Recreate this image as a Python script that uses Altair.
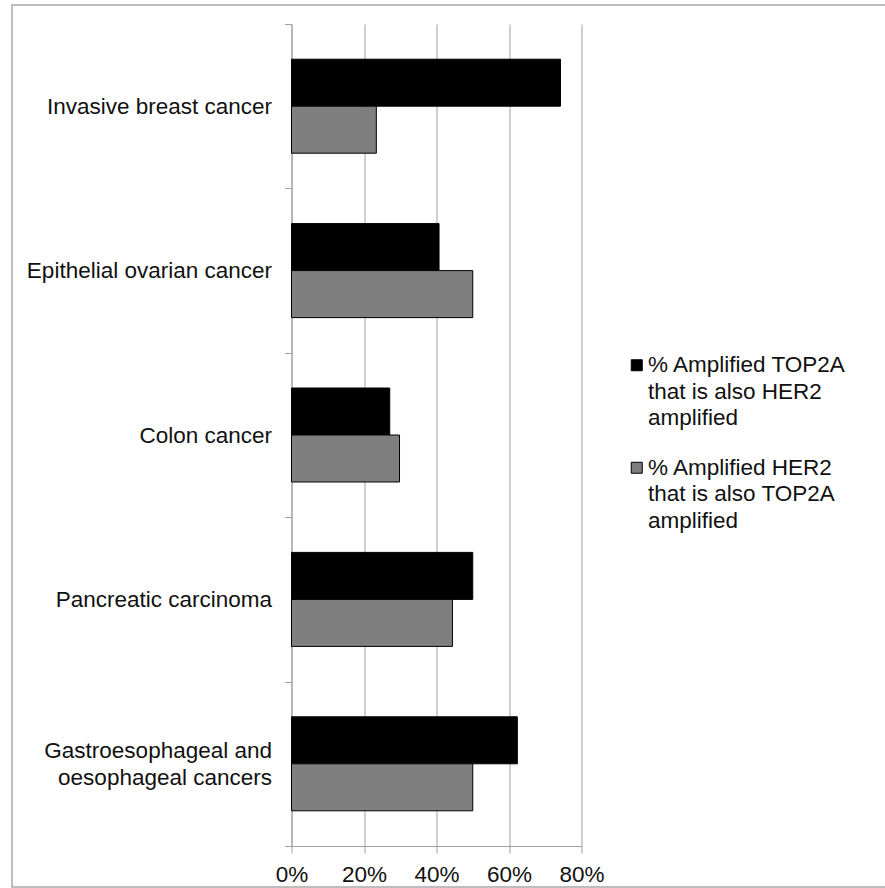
import altair as alt
import pandas as pd

categories = [
    "Invasive breast cancer",
    "Epithelial ovarian cancer",
    "Colon cancer",
    "Pancreatic carcinoma",
    "Gastroesophageal and oesophageal cancers",
]
series = [
    "% Amplified TOP2A that is also HER2 amplified",
    "% Amplified HER2 that is also TOP2A amplified",
]
top2a_also_her2 = [74.2, 40.7, 27.1, 50.0, 62.3]
her2_also_top2a = [23.4, 50.0, 29.8, 44.4, 50.0]
x_ticks = [0, 20, 40, 60, 80]

rows = []
for c, a, b in zip(categories, top2a_also_her2, her2_also_top2a):
    rows.append({"category": c, "series": series[0], "value": a})
    rows.append({"category": c, "series": series[1], "value": b})
df = pd.DataFrame(rows)

FONT = "Liberation Sans"
FS = 22.5
GRAY = "#a0a0a0"

two_line = "Gastroesophageal and oesophageal cancers"
y_label_expr = (
    "datum.value == '" + two_line + "' ? "
    "['Gastroesophageal and', 'oesophageal cancers'] : datum.value"
)
legend_label_expr = (
    "datum.value == '" + series[0] + "' ? "
    "['% Amplified TOP2A', 'that is also HER2', 'amplified'] : "
    "['% Amplified HER2', 'that is also TOP2A', 'amplified']"
)

bars = alt.Chart(df).mark_bar(stroke="#000000", strokeWidth=1).encode(
    y=alt.Y(
        "category:N",
        sort=categories,
        scale=alt.Scale(paddingInner=0, paddingOuter=0),
        axis=alt.Axis(
            title=None,
            labelExpr=y_label_expr,
            labelOffset={
                "condition": {"test": "datum.value == '" + two_line + "'", "value": -13.5},
                "value": 0,
            },
            tickBand="extent",
            tickSize=7,
            tickColor=GRAY,
            domainColor=GRAY,
            labelFont=FONT,
            labelFontSize=FS,
            labelColor="#111111",
            labelPadding=13,
            labelLimit=400,
            labelLineHeight=27,
            grid=False,
        ),
    ),
    x=alt.X(
        "value:Q",
        scale=alt.Scale(domain=[0, 80], nice=False),
        axis=alt.Axis(
            title=None,
            values=x_ticks,
            labelExpr="datum.value + '%'",
            grid=True,
            gridColor=GRAY,
            gridWidth=1,
            tickSize=7,
            tickColor=GRAY,
            domainColor=GRAY,
            labelFont=FONT,
            labelFontSize=FS,
            labelColor="#111111",
            labelPadding=10,
            labelFlush=False,
        ),
    ),
    yOffset=alt.YOffset(
        "series:N", sort=series, scale=alt.Scale(paddingInner=0, paddingOuter=0.749)
    ),
    color=alt.Color(
        "series:N",
        sort=series,
        scale=alt.Scale(domain=series, range=["#000000", "#7f7f7f"]),
        legend=alt.Legend(
            title=None,
            orient="none",
            legendX=334,
            legendY=330,
            symbolType="square",
            symbolSize=121,
            symbolStrokeColor="#000000",
            symbolStrokeWidth=1,
            labelExpr=legend_label_expr,
            labelFont=FONT,
            labelFontSize=FS,
            labelColor="#111111",
            labelOffset=0,
            labelLimit=400,
            rowPadding=26.5,
            padding=0,
        ),
    ),
)

frame = alt.Chart(pd.DataFrame({"f": [0]})).mark_rect(
    fill="transparent", stroke="#a8a8a8", strokeWidth=1.5
).encode(
    x=alt.value(-279.5),
    x2=alt.value(600),
    y=alt.value(-19),
    y2=alt.value(863),
)

chart = (
    alt.layer(frame, bars)
    .properties(
        width=290,
        height=822,
        autosize=alt.AutoSizeParams(type="none"),
        padding={"left": 291.5, "top": 24, "right": 303.5, "bottom": 42},
    )
    .configure(
        background="#ffffff",
        view=alt.ViewConfig(strokeWidth=0),
        style={"guide-label": {"lineHeight": 26.5}},
    )
)

chart.save("out.html", embed_options={"renderer": "svg", "actions": False})
